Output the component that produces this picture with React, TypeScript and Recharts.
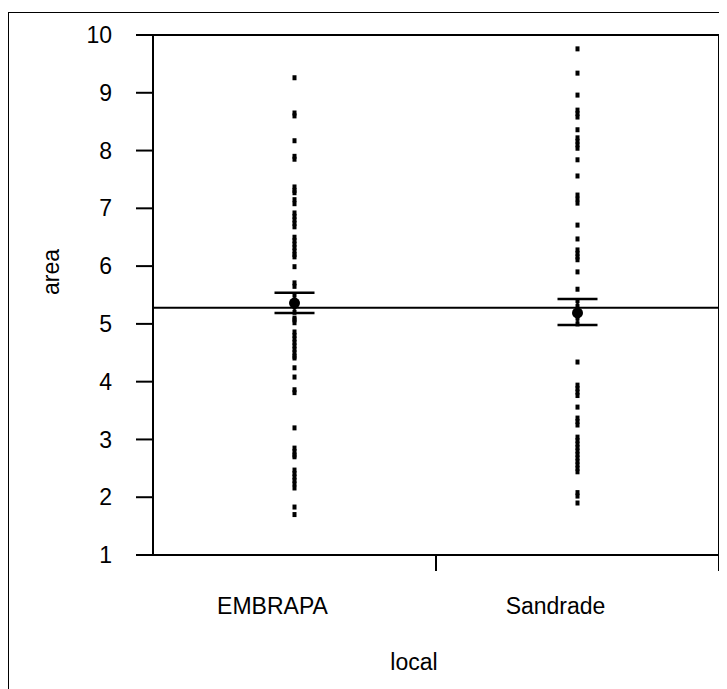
import React from 'react';
import { ComposedChart, Scatter, XAxis, YAxis, ReferenceLine, ErrorBar, Label } from 'recharts';

const categories = ['EMBRAPA', 'Sandrade'];

const embrapaValues = [
    9.26, 8.65, 8.6, 8.17, 7.9, 7.85, 7.37, 7.31, 7.27, 7.15, 7.08,
    6.92, 6.86, 6.8, 6.74, 6.68, 6.5, 6.44, 6.38, 6.32, 6.26, 6.2, 6.16,
    5.99, 5.71, 5.65, 5.5, 5.4, 5.3, 5.2, 5.1, 5.07, 5.02,
    4.86, 4.8, 4.74, 4.68, 4.62, 4.56, 4.5, 4.44, 4.41, 4.24, 4.08, 3.86, 3.81,
    3.2, 2.85, 2.79, 2.73, 2.7, 2.47, 2.41, 2.35, 2.29, 2.23, 2.16, 1.83, 1.7,
];

const sandradeValues = [
    9.76, 9.34, 8.96, 8.7, 8.64, 8.58, 8.36, 8.22, 8.16, 8.1, 8.04,
    7.84, 7.56, 7.23, 7.16, 7.09, 6.71, 6.47, 6.28, 6.22, 6.16, 6.11, 5.9,
    5.6, 5.4, 5.3, 5.1, 5.0, 4.34, 3.94, 3.88, 3.82, 3.76, 3.56, 3.37, 3.31, 3.25,
    3.04, 2.98, 2.92, 2.86, 2.8, 2.74, 2.68, 2.62, 2.56, 2.5, 2.44, 2.08, 2.02, 1.9,
];

const means = [5.36, 5.19];
const errLow = [0.17, 0.21];
const errHigh = [0.18, 0.24];
const grandMean = 5.28;
const yTicks = [1, 2, 3, 4, 5, 6, 7, 8, 9, 10];

// category i sits at x = i + 0.5, band edges at integers
const pointData = [
    ...embrapaValues.map((v) => ({ x: 0.5, y: v })),
    ...sandradeValues.map((v) => ({ x: 1.5, y: v })),
];
const meanData = means.map((m, i) => ({ x: i + 0.5, y: m, err: [errLow[i], errHigh[i]] }));

const FONT = '"Liberation Sans", Arial, sans-serif';
const FS = 23;

const SquareDot = (props: any) => {
    const { cx, cy } = props;
    return <rect x={cx - 2} y={cy - 2.5} width={4} height={5} fill="#000" />;
};

const MeanDot = (props: any) => {
    const { cx, cy } = props;
    return <circle cx={cx} cy={cy} r={5.5} fill="#000" />;
};

const XTick = (props: any) => {
    const { x, y, payload } = props;
    const v = payload.value;
    if (Number.isInteger(v)) {
        if (v === 0) return null;
        return <line x1={x} y1={y} x2={x} y2={y + 16} stroke="#000" strokeWidth={2} />;
    }
    return (
        <text x={x - 22} y={y + 59} textAnchor="middle" fontSize={FS} fontFamily={FONT} fill="#000">
            {categories[Math.floor(v)]}
        </text>
    );
};

const App = () => {
    return (
        <div style={{ width: 719, height: 677, overflow: 'hidden', marginTop: 4 }}>
            <div style={{ width: 740, height: 700, border: '1px solid #000', boxSizing: 'border-box' }}>
                <ComposedChart width={719} height={676} margin={{ top: 22, right: 9, left: 0, bottom: 14 }}>
                    <XAxis
                        type="number"
                        dataKey="x"
                        domain={[0, 2]}
                        ticks={[0, 0.5, 1, 1.5, 2]}
                        interval={0}
                        height={120}
                        tickSize={0}
                        tickMargin={0}
                        tickLine={false}
                        tick={<XTick />}
                        axisLine={{ stroke: '#000', strokeWidth: 2 }}
                    >
                        <Label value="local" position="insideBottom" offset={5} dx={-22} fontSize={FS} fontFamily={FONT} fill="#000" />
                    </XAxis>
                    <YAxis
                        type="number"
                        dataKey="y"
                        domain={[1, 10]}
                        ticks={yTicks}
                        interval={0}
                        width={144}
                        tickSize={17}
                        tickMargin={24}
                        tickLine={{ stroke: '#000', strokeWidth: 2 }}
                        axisLine={{ stroke: '#000', strokeWidth: 2 }}
                        tick={{ fontSize: FS, fontFamily: FONT, fill: '#000' }}
                    >
                        <Label value="area" angle={-90} position="insideLeft" offset={42} fontSize={FS} fontFamily={FONT} fill="#000" />
                    </YAxis>
                    <ReferenceLine y={10} stroke="#000" strokeWidth={2} />
                    <ReferenceLine x={2} stroke="#000" strokeWidth={2} />
                    <ReferenceLine y={grandMean} stroke="#000" strokeWidth={2} />
                    <Scatter data={pointData} shape={<SquareDot />} isAnimationActive={false} />
                    <Scatter data={meanData} shape={<MeanDot />} isAnimationActive={false}>
                        <ErrorBar dataKey="err" direction="y" width={20} stroke="#000" strokeWidth={2.5} isAnimationActive={false} />
                    </Scatter>
                </ComposedChart>
            </div>
        </div>
    );
};

export default App;
